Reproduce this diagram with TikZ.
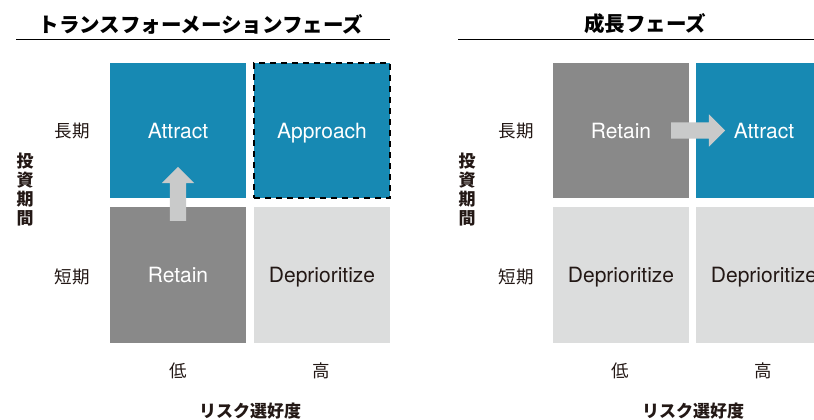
\documentclass[tikz,border=0pt]{standalone}
\usepackage{fontspec}
\setmainfont{TeX Gyre Heros}
\newfontfamily\jp{Noto Sans CJK JP}
\usetikzlibrary{shapes.arrows}
\definecolor{qblue}{HTML}{1789B3}
\definecolor{qdark}{HTML}{898989}
\definecolor{qlight}{HTML}{DCDDDD}
\definecolor{qarrow}{HTML}{C9CACA}
\definecolor{qtext}{HTML}{231815}
\begin{document}
\begin{tikzpicture}[x=1pt,y=-1pt,
  cell/.style={minimum width=136pt,minimum height=136pt,inner sep=0pt,outer sep=0pt,anchor=north west,font=\fontsize{21}{24}\selectfont,text height=15pt,text depth=0pt},
  cellblue/.style={cell,fill=qblue,text=white},
  celldark/.style={cell,fill=qdark,text=white},
  celllight/.style={cell,fill=qlight,text=qtext},
  dashedcell/.style={draw=black,line width=2pt,dash pattern=on 6pt off 5pt},
  title/.style={font=\jp\bfseries\fontsize{20.5}{24}\selectfont,text=black},
  axislbl/.style={font=\jp\fontsize{17.5}{20}\selectfont,text=qtext},
  axisttl/.style={font=\jp\bfseries\fontsize{17}{20}\selectfont,text=qtext,align=center},
  blockarrow/.style={single arrow,fill=qarrow,draw=none,minimum height=54pt,minimum width=32pt,single arrow head extend=8pt,inner sep=8pt,anchor=center},
  rule/.style={line width=1pt,draw=black}
]
\useasboundingbox (0,0) rectangle (814,420);
\clip (0,0) rectangle (814,420);
\fill[white] (0,0) rectangle (814,420);

% ---------- left panel ----------
\node[title] (lt) at (201,24) {トランスフォーメーションフェーズ};
\coordinate (lr1) at (16,40);
\coordinate (lr2) at (390,40);
\draw[rule] (lr1) -- (lr2);

\node[cellblue,minimum height=135pt] (la) at (110,63) {Attract};
\node[cellblue,dashedcell,minimum height=135pt] (lp) at (254,63) {Approach};
\node[celldark] (lre) at (110,207) {Retain};
\node[celllight] (ld) at (254,207) {Deprioritize};

\node[blockarrow,rotate=90] (lup) at (178,198) {};

\node[axislbl] (llong) at (72,131) {長期};
\node[axislbl] (lshort) at (72,277) {短期};
\node[axisttl] (linv) at (25,190) {投\\[-1pt]資\\[-1pt]期\\[-1pt]間};
\node[axislbl] (llow) at (178,371) {低};
\node[axislbl] (lhigh) at (321,371) {高};
\node[axisttl] (lrisk) at (250,411) {リスク選好度};

% ---------- right panel ----------
\node[title] (rt) at (645,24) {成長フェーズ};
\coordinate (rr1) at (458,40);
\coordinate (rr2) at (814,40);
\draw[rule] (rr1) -- (rr2);

\node[celldark,minimum height=135pt] (rre) at (553,63) {Retain};
\node[cellblue,minimum height=135pt] (ra) at (696,63) {Attract};
\node[celllight] (rd1) at (553,207) {Deprioritize};
\node[celllight] (rd2) at (696,207) {Deprioritize};

\node[blockarrow] (rright) at (694,130.5) {};

\node[axislbl] (rlong) at (516,131) {長期};
\node[axislbl] (rshort) at (516,277) {短期};
\node[axisttl] (rinv) at (467,190) {投\\[-1pt]資\\[-1pt]期\\[-1pt]間};
\node[axislbl] (rlow) at (620,371) {低};
\node[axislbl] (rhigh) at (763,371) {高};
\node[axisttl] (rrisk) at (693,411) {リスク選好度};
\end{tikzpicture}
\end{document}
